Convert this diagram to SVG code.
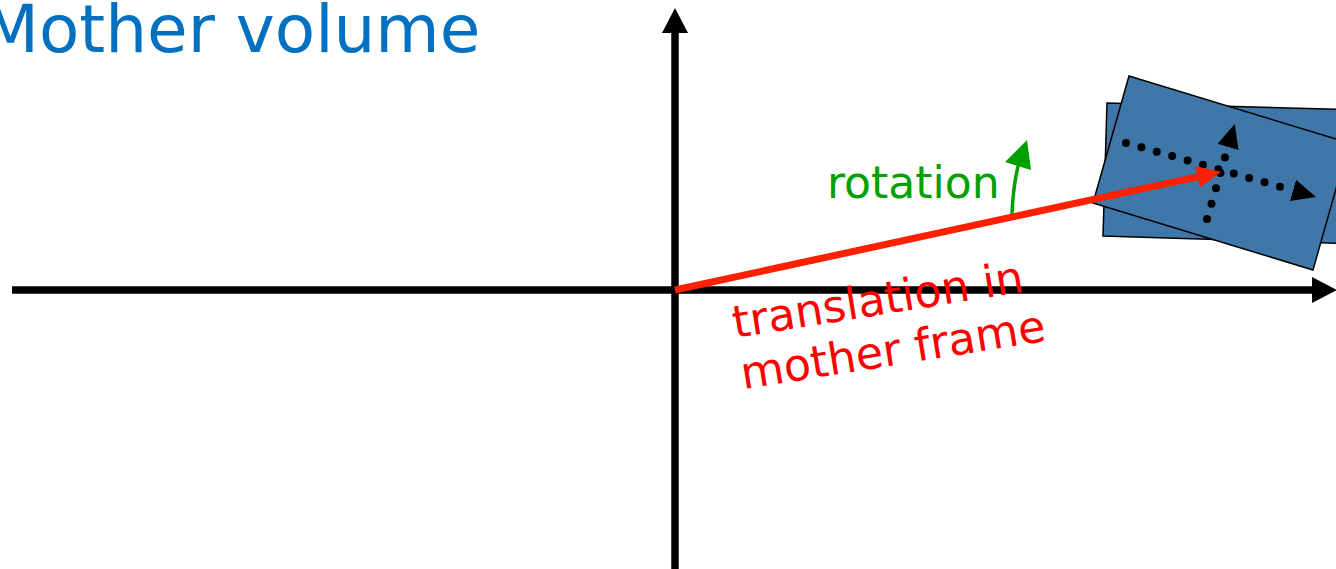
<svg xmlns="http://www.w3.org/2000/svg" width="1336" height="569" viewBox="0 0 1336 569">
<style>
text{font-family:"DejaVu Sans","Liberation Sans",sans-serif}
.axis{stroke:#000;stroke-width:7.5;fill:none}
.dots{stroke:#000;stroke-width:8;stroke-linecap:round;stroke-dasharray:0 16;fill:none}
.box{fill:#3F77A9;stroke:#000;stroke-width:1.5}
</style>
<defs>
<marker id="ah" viewBox="0 0 25 26" refX="0" refY="13" markerWidth="25" markerHeight="26" markerUnits="userSpaceOnUse" orient="auto"><path d="M0,0 L25,13 L0,26 z" fill="#000"/></marker>
<marker id="ahd" viewBox="0 0 24 22" refX="0" refY="11" markerWidth="24" markerHeight="22" markerUnits="userSpaceOnUse" orient="auto"><path d="M0,0 L24,11 L0,22 z" fill="#000"/></marker>
<marker id="ahr" viewBox="0 0 24 22" refX="0" refY="11" markerWidth="24" markerHeight="22" markerUnits="userSpaceOnUse" orient="auto"><path d="M0,0 L24,11 L0,22 z" fill="#FF2000"/></marker>
</defs>
<g id="title"><text x="-18" y="52" font-size="66" fill="#0070C0">Mother volume</text></g>
<g id="mother-box"><polygon class="box" points="1107,103 1362,110 1358,244 1103,236"/></g>
<g id="daughter-box">
<polygon class="box" points="1129,76 1349,143 1313,270 1093,203"/>
</g>
<g id="connectors">
<line class="axis" x1="12" y1="290" x2="1312" y2="290" marker-end="url(#ah)"/>
<line class="axis" x1="675" y1="569" x2="675" y2="33" marker-end="url(#ah)"/>
<line class="dots" x1="1126" y1="143" x2="1293" y2="190.4" marker-end="url(#ahd)"/>
<line class="dots" x1="1207" y1="219" x2="1228" y2="147" marker-end="url(#ahd)"/>
<line x1="675" y1="290" x2="1197.5" y2="176.9" stroke="#FF2000" stroke-width="7" marker-end="url(#ahr)"/>
<path d="M1012,214 Q1013,188 1018,166" fill="none" stroke="#00A000" stroke-width="3.5"/>
<polygon points="1005,162 1027,140 1031,170" fill="#00A000"/>
</g>
<g id="rotation-label"><text x="827" y="198" font-size="44" fill="#00A000">rotation</text></g>
<g id="translation-label" transform="translate(735,338) rotate(-9.1)">
<text x="0" y="0" font-size="44.5" fill="#FF0000">translation in</text>
<text x="0" y="52" font-size="44.5" fill="#FF0000">mother frame</text>
</g>
</svg>
